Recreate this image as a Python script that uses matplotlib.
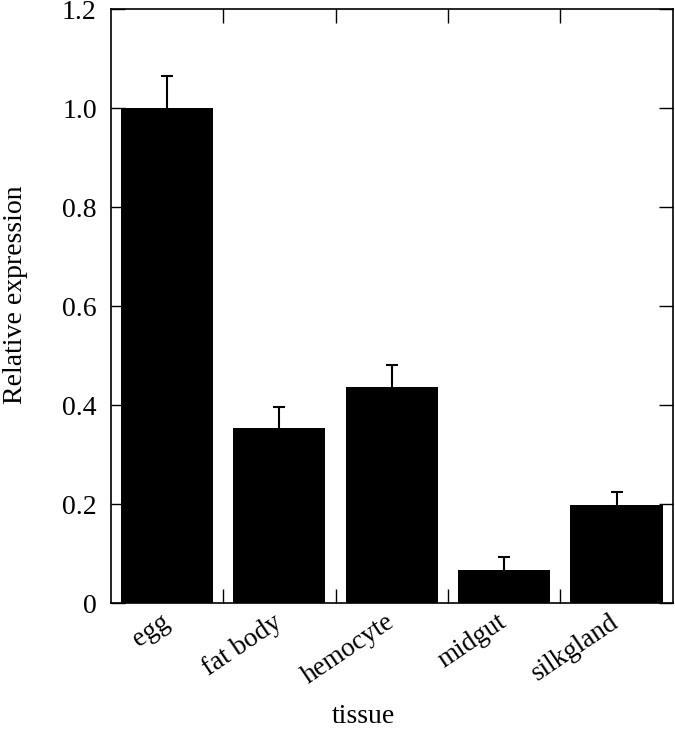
import matplotlib
matplotlib.use("Agg")
import matplotlib.pyplot as plt

plt.rcParams["font.family"] = ["Liberation Serif", "DejaVu Serif"]

tissues = ["egg", "fat body", "hemocyte", "midgut", "silkgland"]
expression = [1.0, 0.355, 0.437, 0.067, 0.198]
errors = [0.066, 0.042, 0.044, 0.027, 0.027]
y_ticks = [0, 0.2, 0.4, 0.6, 0.8, 1.0, 1.2]
y_tick_labels = ["0", "0.2", "0.4", "0.6", "0.8", "1.0", "1.2"]

fig = plt.figure(figsize=(6.75, 7.34), dpi=100)
ax = fig.add_axes([0.164, 0.178, 0.8326, 0.8093])

pos = list(range(len(tissues)))
ax.bar(pos, expression, width=0.82, color="black", zorder=2)
_, caps, _ = ax.errorbar(pos, expression, yerr=[[0] * len(errors), errors],
                         fmt="none", ecolor="black", elinewidth=1.5, capsize=4,
                         capthick=1.5, zorder=3)
# only the upper whisker gets a cap
caps[0].set_visible(False)

ax.set_xlim(-0.5, len(tissues) - 0.5)
ax.set_ylim(0, 1.2)

# tissue labels sit under the bars, tick marks sit between them
ax.set_xticks(pos)
ax.set_xticklabels(tissues, rotation=34, ha="right", va="center",
                   rotation_mode="anchor", fontsize=19.5)
ax.tick_params(axis="x", which="major", length=0, pad=12)
ax.set_xticks([p + 0.5 for p in pos[:-1]], minor=True)
ax.tick_params(axis="x", which="minor", direction="in", length=10, width=1,
               top=True, bottom=True)

ax.set_yticks(y_ticks)
ax.set_yticklabels(y_tick_labels, fontsize=20)
ax.tick_params(axis="y", direction="in", length=10, width=1, left=True,
               right=True, pad=10)

for s in ax.spines.values():
    s.set_linewidth(1.2)

ax.set_ylabel("Relative expression", fontsize=20)
ax.yaxis.set_label_coords(-0.147, 0.519)
ax.set_xlabel("tissue", fontsize=20)
ax.xaxis.set_label_coords(0.449, -0.17)

fig.savefig("out.png", dpi=100)
